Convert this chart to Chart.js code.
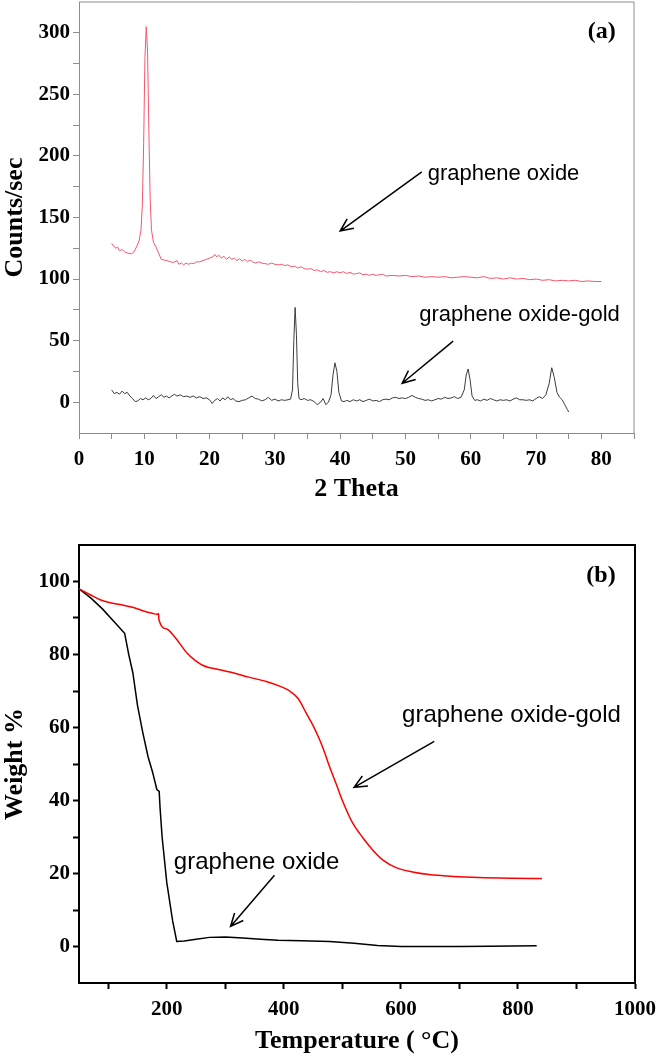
<!DOCTYPE html>
<html>
<head>
<meta charset="utf-8">
<script src="https://cdn.jsdelivr.net/npm/chart.js@4.4.1/dist/chart.umd.min.js"></script>
<style>
  html, body { margin: 0; padding: 0; background: #fff; }
  #xrd { position: absolute; left: 0; top: 0; }
  #tga { position: absolute; left: 0; top: 530px; }
</style>
</head>
<body>
<canvas id="xrd" width="660" height="510"></canvas>
<canvas id="tga" width="660" height="527"></canvas>
<script>
// (a) XRD, [2 theta, counts/sec]
const xrdGO = [
  [5.0,129],[5.3,127],[5.6,125],[5.9,126],[6.2,123],[6.6,124],[7.0,122],[7.5,121],[8.0,120.5],[8.4,122],
  [8.8,126],[9.2,131],[9.5,140],[9.7,160],[9.9,210],[10.1,280],[10.3,305],[10.5,285],[10.7,220],[10.9,165],
  [11.1,140],[11.4,130],[11.8,126],[12.2,121],[12.6,116],[13.0,115.5],[13.5,115],[14.0,114],[14.5,113.5],[15.0,115],
  [15.3,112],[15.7,113],[16.0,111.5],[16.4,113],[16.8,112],[17.2,113],[17.6,112.5],[18.0,114],[18.5,114],[19.0,115],
  [19.5,116],[20.0,117],[20.5,118],[20.8,120],[21.1,118],[21.4,119.5],[21.8,117],[22.2,118.5],[22.6,116],[23.0,118],
  [23.4,116],[23.8,117],[24.2,115],[24.6,116.5],[25.0,114.5],[25.4,116],[25.8,114],[26.2,115.5],[26.6,114],[27.0,113],
  [27.5,114],[28.0,113],[28.5,112.5],[29.0,112],[29.5,113],[30.0,112],[30.5,111.5],[31.0,112],[31.5,111],[32.0,111.5],
  [32.5,110],[33.0,110.5],[33.5,109],[34.0,110],[34.5,108.5],[35.0,108],[35.5,108.5],[36.0,107],[36.5,107.5],[37.0,106],
  [37.5,107],[38.0,105.5],[38.5,106],[39.0,105],[39.5,106],[40.0,105],[40.5,106],[41.0,104.5],[41.5,105.5],[42.0,104],
  [42.5,104.5],[43.0,105],[43.5,103.5],[44.0,104],[44.5,103],[45.0,104],[45.5,103],[46.0,103.5],[46.5,104],[47.0,102.5],
  [48,103],[49,102.5],[50,103],[51,102],[52,102.5],[53,101.5],[54,102],[55,101.5],[56,102],[57,101],
  [58,101.5],[59,102],[60,101.5],[61,101],[62,102],[63,100.5],[64,101],[65,100],[66,101],[67,100],
  [68,100.5],[69,99.5],[70,100],[71,99],[72,99.5],[73,98.5],[74,99],[75,98.5],[76,99],[77,98],
  [78,98.5],[79,98],[80,98]
];
const xrdGOAu = [
  [5.0,10],[5.4,7],[5.8,8],[6.2,6.5],[6.6,9],[7.0,7],[7.4,8],[7.8,5],[8.2,3],[8.6,0.5],
  [9.0,1],[9.4,3],[9.8,2],[10.2,3.5],[10.6,2],[11.0,3],[11.4,5.5],[11.8,3],[12.2,4.5],[12.6,6],
  [13.0,4],[13.4,5],[13.8,3.5],[14.2,5],[14.6,6.5],[15.0,5],[15.5,6],[16.0,4.5],[16.5,5],[17.0,4],
  [17.5,5],[18.0,3.5],[18.5,4.5],[19.0,3],[19.5,3.5],[20.0,2],[20.4,-1],[20.8,1.5],[21.2,3],[21.6,1],
  [22.0,3.5],[22.4,2],[22.8,4.5],[23.2,2],[23.6,3],[24.0,1],[24.5,0.5],[25.0,1.5],[25.5,2],[26.0,3.5],
  [26.5,5],[27.0,3],[27.5,2.5],[28.0,1],[28.5,2],[29.0,4],[29.5,1.5],[30.0,2.5],[30.5,1],[31.0,2],
  [31.5,1.5],[32.0,2],[32.4,2.5],[32.7,10],[32.9,50],[33.1,77],[33.3,55],[33.5,15],[33.7,3],[34.0,2],
  [34.5,3],[35.0,1.5],[35.5,2],[36.0,0.5],[36.5,-2],[37.0,0],[37.4,3],[37.8,-2],[38.2,0],[38.6,6],
  [38.9,22],[39.2,32],[39.5,25],[39.8,8],[40.2,1],[40.6,0.5],[41.0,1.5],[41.5,0.5],[42.0,2],[42.5,1],
  [43.0,2],[43.5,0.5],[44.0,1.5],[44.5,2.5],[45.0,1],[45.5,1.5],[46.0,0.5],[46.5,2],[47.0,2.5],[47.5,2],
  [48.0,3.5],[48.5,4],[49.0,3],[49.5,3.5],[50.0,3],[50.5,4],[51.0,5.5],[51.5,4],[52.0,3],[52.5,2.5],
  [53.0,1.5],[53.5,2],[54.0,1],[54.5,2],[55.0,3],[55.5,2.5],[56.0,4],[56.5,3],[57.0,3.5],[57.5,4.5],
  [58.0,3],[58.5,4],[59.0,10],[59.3,22],[59.6,27],[59.9,18],[60.2,5],[60.6,1.5],[61.0,2],[61.5,1],
  [62.0,2.5],[62.5,1.5],[63.0,3],[63.5,2],[64.0,1],[64.5,2],[65.0,1.5],[65.5,2],[66.0,1],[66.5,2.5],
  [67.0,3.5],[67.5,2],[68.0,2],[68.5,1.5],[69.0,2],[69.5,1],[70.0,3],[70.5,4.5],[71.0,3],[71.5,6],
  [72.0,15],[72.4,28],[72.8,20],[73.2,8],[73.6,4],[74.0,2],[74.4,-2],[74.8,-6],[75.0,-8]
];
const xrdXTicks = [0,5,10,15,20,25,30,35,40,45,50,55,60,65,70,75,80,85];
const xrdXLabels = [0,10,20,30,40,50,60,70,80];
const xrdYTicks = [0,25,50,75,100,125,150,175,200,225,250,275,300];
const xrdYLabels = [0,50,100,150,200,250,300];

// (b) TGA, [temperature, weight %]
const tgaGO = [
  [50,98],[70,95.5],[90,92.5],[110,89],[128,85.8],[135,80],[142,75],[150,66],[159,58.6],[168,52],
  [176,47.6],[183,43],[187,42.5],[188.5,38],[192,30],[200,17.5],[210,7],[217,1.4],[230,1.5],[250,2],
  [273,2.5],[300,2.6],[330,2.3],[360,2],[390,1.7],[430,1.6],[478,1.4],[520,0.9],[560,0.3],[600,0],
  [700,0],[750,0.1],[832,0.2]
];
const tgaGOAu = [
  [50,98],[70,96.3],[86,95],[100,94.3],[120,93.7],[140,93],[159,92],[175,91.3],[184,91],[186,91.2],
  [186.5,89.5],[200,87],[215,84.5],[234,80.5],[250,78.2],[262,77],[290,75.8],[313,75],[340,73.8],[370,72.6],
  [395,71.2],[410,70],[425,67.8],[438,64],[450,60.5],[461,56.7],[470,53],[478,49.3],[490,44.3],[500,40],
  [517,34],[535,29.8],[551,26.6],[570,23.6],[592,21.6],[620,20.4],[648,19.7],[690,19.2],[733,18.9],[790,18.7],
  [841,18.6]
];
const tgaXTicks = [100,200,300,400,500,600,700,800,900,1000];
const tgaXLabels = [200,400,600,800,1000];
const tgaYTicks = [0,10,20,30,40,50,60,70,80,90,100];
const tgaYLabels = [0,20,40,60,80,100];

// labels with arrows, in data units
const xrdNotes = [
  { text: 'graphene oxide', x: 53.4, y: 180.5, from: [52.5, 187], to: [40, 139] },
  { text: 'graphene oxide-gold', x: 52.1, y: 65.9, from: [57.3, 49.6], to: [49.5, 15.4] }
];
const tgaNotes = [
  { text: 'graphene oxide-gold', x: 602, y: 61.6, from: [657, 56.2], to: [520, 43.6] },
  { text: 'graphene oxide', x: 212, y: 21.1, from: [384, 19.5], to: [309, 5.5] }
];

const tickFont = { family: 'Liberation Serif', size: 21, weight: 'bold' };
const titleFont = { family: 'Liberation Serif', size: 26, weight: 'bold' };

function arrow(ctx, x1, y1, x2, y2) {
  const a = Math.atan2(y2 - y1, x2 - x1), h = 14;
  ctx.beginPath();
  ctx.moveTo(x1, y1);
  ctx.lineTo(x2, y2);
  ctx.moveTo(x2 - h * Math.cos(a - 0.42), y2 - h * Math.sin(a - 0.42));
  ctx.lineTo(x2, y2);
  ctx.lineTo(x2 - h * Math.cos(a + 0.42), y2 - h * Math.sin(a + 0.42));
  ctx.stroke();
}

function notesPlugin(notes, panel, frameColor, frameWidth, noteSize) {
  return {
    id: 'notes',
    afterDraw(chart) {
      const ctx = chart.ctx, a = chart.chartArea;
      const xs = chart.scales.x, ys = chart.scales.y;
      ctx.save();
      // top and right frame
      ctx.strokeStyle = frameColor;
      ctx.lineWidth = frameWidth;
      ctx.beginPath();
      ctx.moveTo(a.left, a.top);
      ctx.lineTo(a.right, a.top);
      ctx.lineTo(a.right, a.bottom);
      ctx.stroke();

      ctx.fillStyle = '#000';
      ctx.strokeStyle = '#000';
      ctx.lineWidth = 1.5;
      ctx.textBaseline = 'alphabetic';
      ctx.font = noteSize + 'px "Liberation Sans"';
      ctx.textAlign = 'left';
      notes.forEach(n => {
        ctx.fillText(n.text, xs.getPixelForValue(n.x), ys.getPixelForValue(n.y));
        arrow(ctx, xs.getPixelForValue(n.from[0]), ys.getPixelForValue(n.from[1]),
                   xs.getPixelForValue(n.to[0]), ys.getPixelForValue(n.to[1]));
      });
      ctx.font = 'bold 24px "Liberation Serif"';
      ctx.textAlign = 'right';
      ctx.fillText(panel.text, xs.getPixelForValue(panel.x), ys.getPixelForValue(panel.y));
      ctx.restore();
    }
  };
}

function toXY(arr) {
  return arr.map(p => ({ x: p[0], y: p[1] }));
}

function makeChart(id, cfg) {
  return new Chart(document.getElementById(id), {
    type: 'line',
    data: {
      datasets: [
        { data: toXY(cfg.red), borderColor: cfg.redColor, borderWidth: cfg.lineWidth, pointRadius: 0, cubicInterpolationMode: cfg.redSmooth },
        { data: toXY(cfg.black), borderColor: cfg.blackColor, borderWidth: cfg.lineWidth, pointRadius: 0, tension: 0 }
      ]
    },
    options: {
      responsive: false,
      animation: false,
      devicePixelRatio: 1,
      layout: { padding: cfg.padding },
      plugins: { legend: { display: false }, tooltip: { enabled: false } },
      scales: {
        x: {
          type: 'linear',
          min: cfg.xMin, max: cfg.xMax,
          afterBuildTicks: s => { s.ticks = cfg.xTicks.map(v => ({ value: v })); },
          afterFit: s => { s.height = cfg.xHeight; s.paddingLeft = 0; s.paddingRight = 0; },
          ticks: {
            autoSkip: false, maxRotation: 0, padding: 8, color: '#000', font: tickFont,
            callback: v => cfg.xLabels.includes(v) ? String(v) : ''
          },
          grid: { drawOnChartArea: false, tickLength: 6, tickColor: cfg.axisColor, tickWidth: cfg.axisWidth },
          border: { color: cfg.axisColor, width: cfg.axisWidth },
          title: { display: true, text: cfg.xTitle, color: '#000', font: titleFont, padding: { top: 0, bottom: cfg.xTitlePad } }
        },
        y: {
          min: cfg.yMin, max: cfg.yMax,
          afterBuildTicks: s => { s.ticks = cfg.yTicks.map(v => ({ value: v })); },
          afterFit: s => { s.width = 79; s.paddingTop = 0; s.paddingBottom = 0; },
          ticks: {
            autoSkip: false, padding: 3, color: '#000', font: tickFont,
            callback: v => cfg.yLabels.includes(v) ? String(v) : ''
          },
          grid: { drawOnChartArea: false, tickLength: 6, tickColor: cfg.axisColor, tickWidth: cfg.axisWidth },
          border: { color: cfg.axisColor, width: cfg.axisWidth },
          title: { display: true, text: cfg.yTitle, color: '#000', font: titleFont, padding: 0 }
        }
      }
    },
    plugins: [notesPlugin(cfg.notes, cfg.panel, cfg.axisColor, cfg.axisWidth, cfg.noteSize)]
  });
}

makeChart('xrd', {
  red: xrdGO, black: xrdGOAu, redColor: '#f5566e', blackColor: '#3c3c3c', lineWidth: 1, redSmooth: 'default',
  padding: { top: 2, right: 26, left: 0, bottom: 0 },
  xMin: 0, xMax: 85, xTicks: xrdXTicks, xLabels: xrdXLabels, xHeight: 77, xTitle: '2 Theta', xTitlePad: 5,
  yMin: -25, yMax: 325, yTicks: xrdYTicks, yLabels: xrdYLabels, yTitle: 'Counts/sec',
  axisColor: '#8c8c8c', axisWidth: 1,
  notes: xrdNotes, noteSize: 22, panel: { text: '(a)', x: 82.2, y: 296 }
});

makeChart('tga', {
  red: tgaGOAu, black: tgaGO, redColor: '#ff0000', blackColor: '#000000', lineWidth: 1.5, redSmooth: 'monotone',
  padding: { top: 15, right: 25, left: 0, bottom: 0 },
  xMin: 50, xMax: 1000, xTicks: tgaXTicks, xLabels: tgaXLabels, xHeight: 74, xTitle: 'Temperature ( \u00B0C)', xTitlePad: 0,
  yMin: -10, yMax: 110, yTicks: tgaYTicks, yLabels: tgaYLabels, yTitle: 'Weight %',
  axisColor: '#000000', axisWidth: 2,
  notes: tgaNotes, noteSize: 24, panel: { text: '(b)', x: 967, y: 100 }
});
</script>
</body>
</html>
